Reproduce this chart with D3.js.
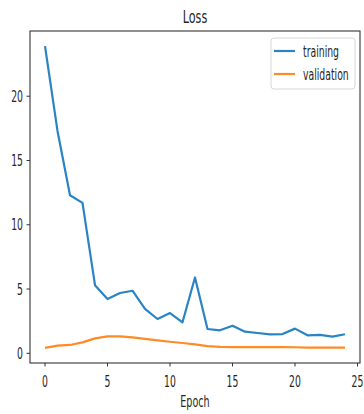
<!DOCTYPE html>
<html>
<head>
<meta charset="utf-8">
<script src="https://cdn.jsdelivr.net/npm/d3@7"></script>
<style>
  body { margin: 0; background: #fff; }
  text { font-family: "DejaVu Sans", sans-serif; fill: #262626; }
</style>
</head>
<body>
<svg id="chart" width="364" height="414"></svg>
<script>
// loss per epoch
let epochs = d3.range(0, 25);
let training = [23.9, 17.3, 12.3, 11.7, 5.3, 4.22, 4.69, 4.87, 3.45, 2.67, 3.13, 2.41, 5.9,
	1.89, 1.79, 2.15, 1.68, 1.58, 1.48, 1.5, 1.92, 1.4, 1.43, 1.3, 1.48];
let validation = [0.42, 0.6, 0.65, 0.85, 1.16, 1.32, 1.32, 1.24, 1.12, 1.0, 0.9, 0.8, 0.7,
	0.56, 0.5, 0.48, 0.48, 0.48, 0.48, 0.48, 0.47, 0.44, 0.44, 0.44, 0.44];
let xTicks = [0, 5, 10, 15, 20, 25];
let yTicks = [0, 5, 10, 15, 20];
let seriesNames = ['training', 'validation'];
let colors = ['#2a84c4', '#ff8a26'];

let squeeze = 0.62; // the picture is narrowed horizontally
let margin = { top: 31, right: 4, bottom: 51, left: 30 };
let svg = d3.select('#chart');
let width = 364 - margin.left - margin.right;
let height = 414 - margin.top - margin.bottom;
let g = svg.append('g').attr('transform', 'translate(' + margin.left + ',' + margin.top + ')');

// matplotlib-like 5% margins
let xPad = (d3.max(epochs) - d3.min(epochs)) * 0.05;
let x = d3.scaleLinear()
	.domain([d3.min(epochs) - xPad, d3.max(epochs) + xPad])
	.range([0, width]);
let all = training.concat(validation);
let yPad = (d3.max(all) - d3.min(all)) * 0.05;
let y = d3.scaleLinear()
	.domain([d3.min(all) - yPad, d3.max(all) + yPad])
	.range([height, 0]);

function label(sel, px, py, txt, size, anchor) {
	return sel.append('text')
		.attr('transform', 'translate(' + px + ',' + py + ') scale(' + squeeze + ',1)')
		.attr('text-anchor', anchor || 'middle')
		.style('font-size', size + 'px')
		.text(txt);
}

// lines
let line = d3.line()
	.x(function(d, i) { return x(epochs[i]) })
	.y(function(d) { return y(d) });

[training, validation].forEach(function(s, i) {
	g.append('path')
		.datum(s)
		.attr('d', line)
		.attr('fill', 'none')
		.attr('stroke', colors[i])
		.attr('stroke-width', 2.2)
		.attr('stroke-linejoin', 'round');
});

// frame
g.append('rect')
	.attr('width', width).attr('height', height)
	.attr('fill', 'none').attr('stroke', '#333').attr('stroke-width', 1.1);

// ticks
xTicks.forEach(function(t) {
	g.append('line').attr('x1', x(t)).attr('x2', x(t)).attr('y1', height).attr('y2', height + 3.5)
		.attr('stroke', '#333');
	label(g, x(t), height + 24, t, 15);
});
yTicks.forEach(function(t) {
	g.append('line').attr('x1', -3.5).attr('x2', 0).attr('y1', y(t)).attr('y2', y(t))
		.attr('stroke', '#333');
	label(g, -7, y(t) + 5.5, t, 15, 'end');
});

// title and axis label
label(svg, margin.left + width / 2, 23, 'Loss', 18);
label(svg, margin.left + width / 2, 407, 'Epoch', 15.5);

// legend
let lg = svg.append('g').attr('transform', 'translate(271,38)');
lg.append('rect')
	.attr('width', 84).attr('height', 51).attr('rx', 3)
	.attr('fill', '#fff').attr('fill-opacity', 0.8)
	.attr('stroke', '#d6d6d6');
seriesNames.forEach(function(n, i) {
	lg.append('line')
		.attr('x1', 3).attr('x2', 24)
		.attr('y1', 13 + i * 23).attr('y2', 13 + i * 23)
		.attr('stroke', colors[i]).attr('stroke-width', 2.2);
	label(lg, 32, 18.5 + i * 23, n, 15, 'start');
});
</script>
</body>
</html>
